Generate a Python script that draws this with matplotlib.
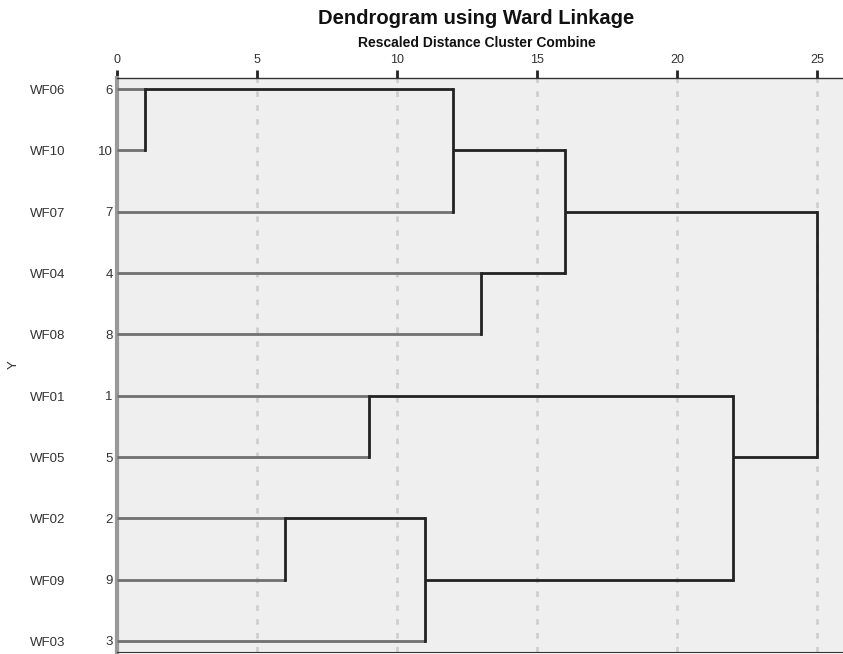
import numpy as np
import matplotlib.pyplot as plt
import matplotlib.transforms as mtransforms

# %% data (SPSS dendrogram, rescaled distances)
names = ['WF06', 'WF10', 'WF07', 'WF04', 'WF08', 'WF01', 'WF05', 'WF02', 'WF09', 'WF03']
case_ids = [6, 10, 7, 4, 8, 1, 5, 2, 9, 3]
# merges: (item a, item b, rescaled distance); items >= 10 are earlier merges
merge_a = [0, 7, 5, 11, 10, 3, 14, 12, 16]
merge_b = [1, 8, 6, 9, 2, 4, 15, 13, 17]
merge_h = [1, 6, 9, 11, 12, 13, 16, 22, 25]
xticks = [0, 5, 10, 15, 20, 25]

plt.rcParams['font.family'] = ['Liberation Sans', 'DejaVu Sans']

fig = plt.figure(figsize=(8.43, 6.54), dpi=100)
ax = fig.add_axes([0.1388, 0.003, 0.8612, 0.8777])
ax.set_facecolor('#efefef')

n = len(names)
rows = list(range(n))
pos = {i: i for i in rows}       # row index of each item
height = {i: 0 for i in rows}    # x where each item's line starts
leaf_col = '#707070'
link_col = '#222222'

for k, (a, b, h) in enumerate(zip(merge_a, merge_b, merge_h)):
    for it in (a, b):
        col = leaf_col if it < n else link_col
        ax.plot([height[it], h], [pos[it], pos[it]], color=col, lw=2, solid_capstyle='butt', zorder=3)
    ax.plot([h, h], [pos[a], pos[b]], color=link_col, lw=2, solid_capstyle='projecting', zorder=3)
    new = n + k
    pos[new] = (pos[a] + pos[b]) // 2
    height[new] = h

# grid
for xv in xticks[1:]:
    ax.axvline(xv, color='#cfcfcf', lw=2, ls=(0, (2, 3)), zorder=1)

ax.set_xlim(0, 25.93)
ax.set_ylim(n - 1 + 0.18, -0.18)

ax.xaxis.tick_top()
ax.set_xticks(xticks)
ax.tick_params(axis='x', direction='out', length=6, width=2, color='#222222',
               labelsize=9, labelcolor='#333333', pad=3)

ax.set_yticks(rows)
ax.set_yticklabels([str(c) for c in case_ids])
ax.tick_params(axis='y', length=0, labelsize=9.5, labelcolor='#333333', pad=3)

trans = mtransforms.blended_transform_factory(ax.transAxes, ax.transData)
for r, nm in zip(rows, names):
    ax.text(-0.12, r + 0.03, nm, transform=trans, ha='left', va='center', fontsize=9.5, color='#333333')
ax.text(-0.142, 4.5, 'Y', transform=trans, ha='center', va='center', rotation=90,
        fontsize=9.5, color='#333333')

ax.spines['left'].set_color('#999999')
ax.spines['left'].set_linewidth(3)
ax.spines['top'].set_color('#333333')
ax.spines['top'].set_linewidth(1)
ax.spines['bottom'].set_color('#333333')
ax.spines['right'].set_visible(False)

fig.text(0.565, 0.972, 'Dendrogram using Ward Linkage', ha='center', va='center',
         fontsize=14.5, fontweight='bold', color='#111111')
fig.text(0.566, 0.934, 'Rescaled Distance Cluster Combine', ha='center', va='center',
         fontsize=10, fontweight='bold', color='#111111')

plt.savefig('out.png', dpi=100)
